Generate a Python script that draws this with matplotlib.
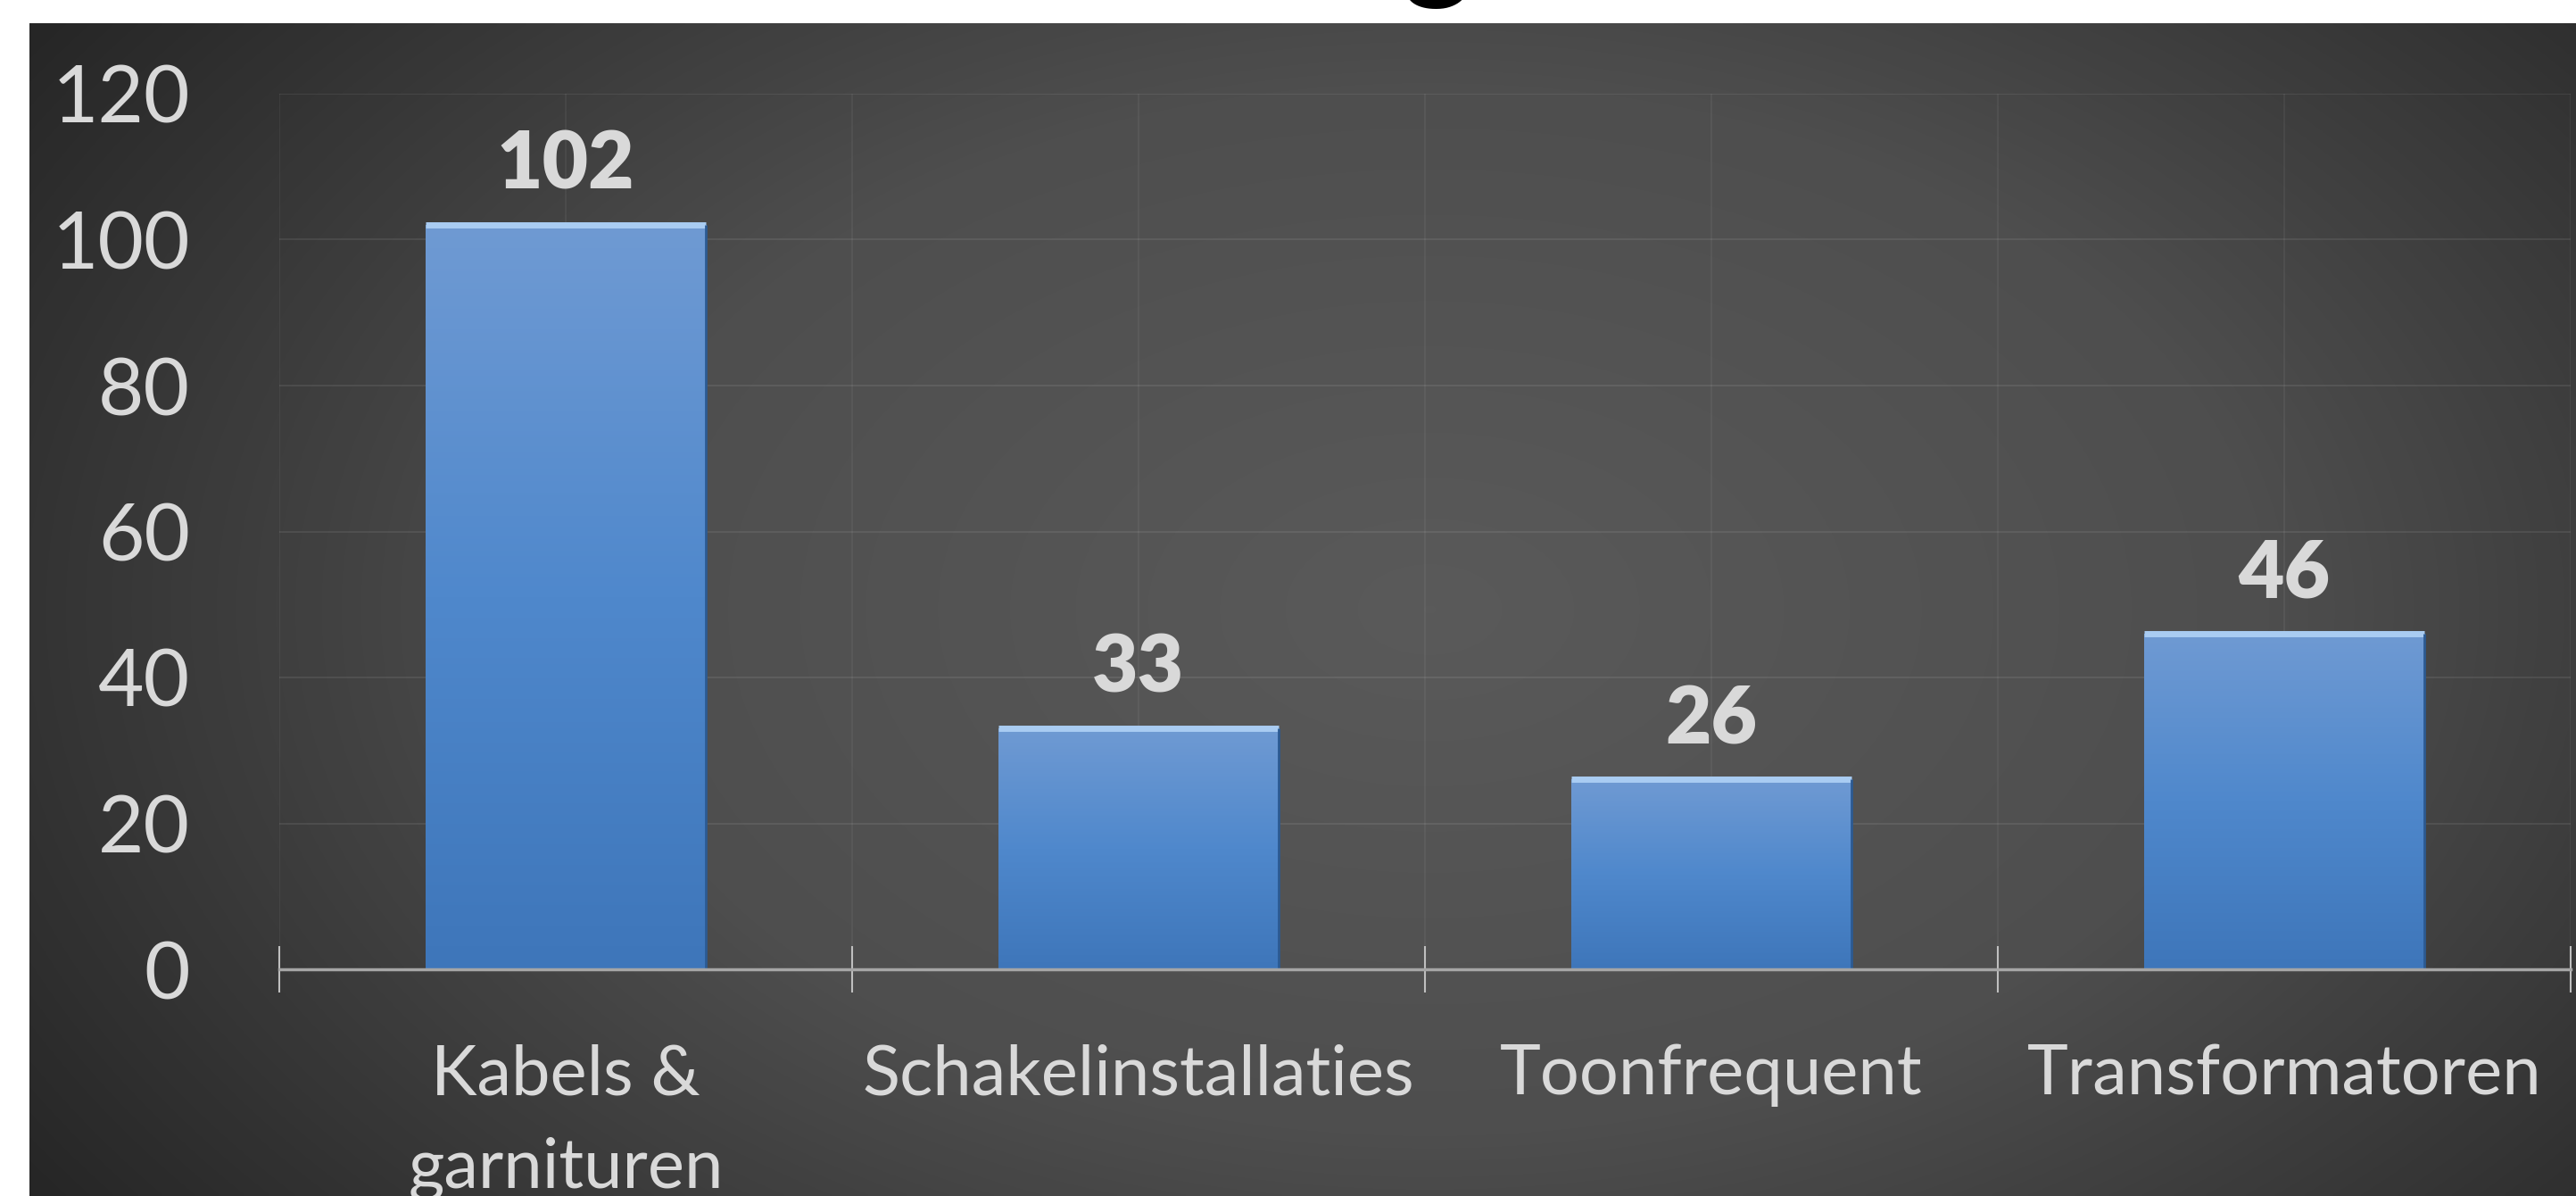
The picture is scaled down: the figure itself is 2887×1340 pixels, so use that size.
import numpy as np
import matplotlib.pyplot as plt
from matplotlib.colors import LinearSegmentedColormap

# Data
categories = ['Kabels &\ngarnituren', 'Schakelinstallaties', 'Toonfrequent', 'Transformatoren']
values = [102, 33, 26, 46]
y_ticks = [0, 20, 40, 60, 80, 100, 120]

plt.rcParams['font.family'] = ['Lato', 'DejaVu Sans']

W, H = 2887, 1340
fig = plt.figure(figsize=(W / 100, H / 100), dpi=100)
fig.patch.set_facecolor('white')

# dark panel with a soft radial gradient
bg = fig.add_axes([33 / W, 0, 1 - 33 / W, 1 - 26 / H])
bg.set_axis_off()
gx, gy = np.meshgrid(np.linspace(0, 1, 800), np.linspace(0, 1, 400))
r = np.sqrt(((gx - 0.55) / 0.66) ** 2 + ((gy - 0.5) / 0.9) ** 2)
bg_cmap = LinearSegmentedColormap.from_list('bg', ['#5a5a5a', '#4e4e4e', '#262626'])
bg.imshow(np.clip(r, 0, 1), cmap=bg_cmap, aspect='auto', extent=[0, 1, 0, 1],
          vmin=0, vmax=1, interpolation='bilinear')

# cut-off title (only the descender is visible)
fig.text(0.558, 1.012, 'g', fontsize=104, fontweight='bold', color='black',
         ha='center', va='baseline')

# main chart
ax = fig.add_axes([313 / W, 1 - 1086 / H, (2881 - 313) / W, (1086 - 105) / H])
ax.set_facecolor('none')

x = np.arange(len(categories))
width = 0.49
bars = ax.bar(x, values, width=width, color='#4a82c6', zorder=3)

bar_cmap = LinearSegmentedColormap.from_list('bar', ['#3e76ba', '#4f88cc', '#6f9ad3'])
grad = np.linspace(0, 1, 256).reshape(-1, 1)
for b in bars:
    bx, bw, bh = b.get_x(), b.get_width(), b.get_height()
    im = ax.imshow(grad, cmap=bar_cmap, aspect='auto', origin='lower',
                   extent=[bx, bx + bw, 0, bh], zorder=4)
    im.set_clip_path(b)

# bevel highlight on top and a dark right edge
ax.hlines(values, x - width / 2, x + width / 2, color='#a9ccf2', lw=5, zorder=5)
ax.vlines(x + width / 2, 0, values, color='#2c5a92', lw=2, zorder=5)

for xi, v in zip(x, values):
    ax.annotate(str(v), (xi, v), xytext=(0, 29), textcoords='offset points',
                ha='center', va='baseline', fontsize=64, fontweight='heavy',
                color='#d9d9d9', zorder=6)

ax.set_xlim(-0.5, len(categories) - 0.5)
ax.set_ylim(0, 120)
ax.set_yticks(y_ticks)
ax.set_yticklabels([str(t) for t in y_ticks])
ax.tick_params(axis='y', length=0, pad=72, labelsize=64, labelcolor='#d9d9d9')

# category boundaries carry the tick marks, centers carry the labels
ax.set_xticks(np.arange(-0.5, len(categories), 1.0))
ax.set_xticklabels([])
ax.set_xticks(x, minor=True)
ax.set_xticklabels(categories, minor=True, linespacing=1.58)
ax.tick_params(axis='x', which='major', direction='inout', length=38, width=1.5,
               color='#bfbfbf')
ax.tick_params(axis='x', which='minor', length=0, pad=60, labelsize=56,
               labelcolor='#d9d9d9')

for yt in y_ticks[1:]:
    ax.axhline(yt, color='white', alpha=0.08, lw=1.5, zorder=1)
for xv in np.arange(-0.5, len(categories), 0.5):
    ax.axvline(xv, color='white', alpha=0.05, lw=1.5, zorder=1)

for s in ['left', 'right', 'top']:
    ax.spines[s].set_visible(False)
ax.spines['bottom'].set_color('#a6a6a6')
ax.spines['bottom'].set_linewidth(2.5)
ax.spines['bottom'].set_zorder(7)

fig.savefig('out.png', dpi=100)
